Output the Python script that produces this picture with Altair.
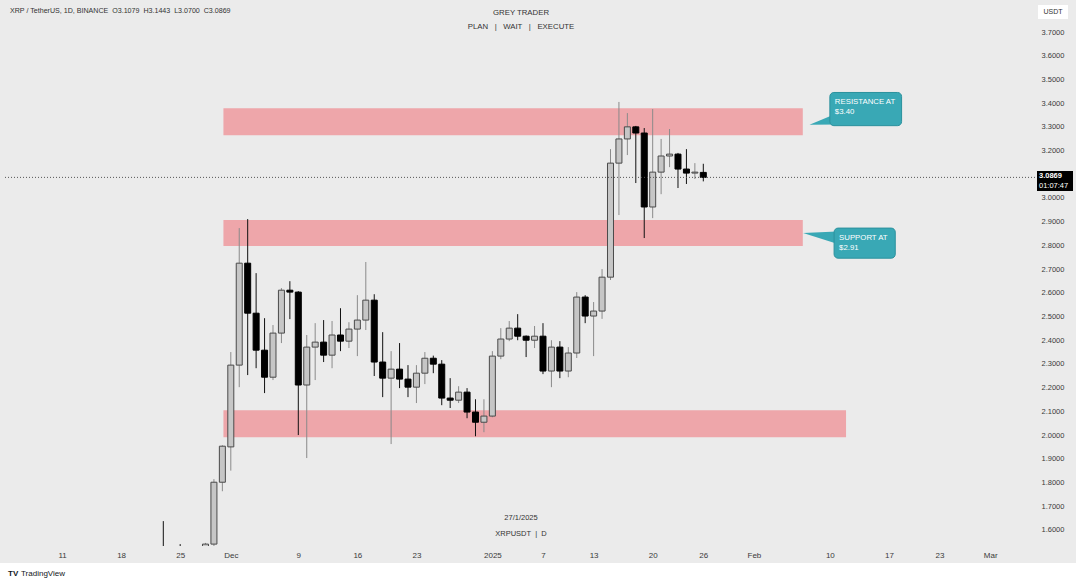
import altair as alt
import pandas as pd

# ---------------- data ----------------
dates = ["2024-11-21", "2024-11-22", "2024-11-23", "2024-11-24", "2024-11-25", "2024-11-26",
         "2024-11-27", "2024-11-28", "2024-11-29", "2024-11-30",
         "2024-12-01", "2024-12-02", "2024-12-03", "2024-12-04", "2024-12-05", "2024-12-06",
         "2024-12-07", "2024-12-08", "2024-12-09", "2024-12-10", "2024-12-11", "2024-12-12",
         "2024-12-13", "2024-12-14", "2024-12-15", "2024-12-16", "2024-12-17", "2024-12-18",
         "2024-12-19", "2024-12-20", "2024-12-21", "2024-12-22", "2024-12-23", "2024-12-24",
         "2024-12-25", "2024-12-26", "2024-12-27", "2024-12-28", "2024-12-29", "2024-12-30",
         "2024-12-31", "2025-01-01", "2025-01-02", "2025-01-03", "2025-01-04", "2025-01-05",
         "2025-01-06", "2025-01-07", "2025-01-08", "2025-01-09", "2025-01-10", "2025-01-11",
         "2025-01-12", "2025-01-13", "2025-01-14", "2025-01-15", "2025-01-16", "2025-01-17",
         "2025-01-18", "2025-01-19", "2025-01-20", "2025-01-21", "2025-01-22", "2025-01-23",
         "2025-01-24", "2025-01-25", "2025-01-26"]
opens = [1.10, 1.42, 1.49, 1.47, 1.46, 1.39, 1.41, 1.47, 1.54, 1.801,
         1.950, 2.295, 2.725, 2.514, 2.358, 2.244, 2.430, 2.611, 2.603, 2.211, 2.371, 2.392,
         2.337, 2.422, 2.396, 2.447, 2.485, 2.569, 2.308, 2.240, 2.278, 2.236, 2.202, 2.261,
         2.324, 2.299, 2.156, 2.147, 2.181, 2.097, 2.054, 2.080, 2.333, 2.405, 2.451, 2.417,
         2.400, 2.417, 2.270, 2.371, 2.270, 2.346, 2.582, 2.502, 2.523, 2.666, 3.147, 3.249,
         3.300, 3.274, 2.962, 3.109, 3.177, 3.185, 3.122, 3.105, 3.1079]
highs = [1.50, 1.52, 1.637, 1.52, 1.54, 1.48, 1.50, 1.545, 1.814, 1.957,
         2.350, 2.873, 2.911, 2.683, 2.493, 2.464, 2.620, 2.649, 2.607, 2.422, 2.472, 2.485,
         2.481, 2.535, 2.476, 2.590, 2.730, 2.594, 2.434, 2.354, 2.388, 2.295, 2.295, 2.350,
         2.335, 2.316, 2.240, 2.206, 2.198, 2.151, 2.151, 2.354, 2.451, 2.481, 2.510, 2.420,
         2.460, 2.472, 2.400, 2.396, 2.371, 2.603, 2.590, 2.561, 2.700, 3.206, 3.405, 3.358,
         3.304, 3.295, 3.375, 3.249, 3.291, 3.190, 3.206, 3.147, 3.1443]
lows = [1.09, 1.36, 1.44, 1.39, 1.38, 1.36, 1.39, 1.44, 1.52, 1.763,
        1.850, 2.202, 2.253, 2.282, 2.177, 2.232, 2.388, 2.489, 2.000, 1.903, 2.232, 2.308,
        2.282, 2.354, 2.367, 2.333, 2.443, 2.249, 2.160, 1.962, 2.198, 2.160, 2.135, 2.215,
        2.261, 2.126, 2.114, 2.135, 2.071, 1.995, 2.012, 2.075, 2.320, 2.396, 2.400, 2.329,
        2.367, 2.257, 2.202, 2.240, 2.244, 2.325, 2.472, 2.333, 2.490, 2.654, 2.928, 3.181,
        3.063, 2.831, 2.915, 3.016, 3.130, 3.042, 3.059, 3.080, 3.0700]
closes = [1.42, 1.49, 1.47, 1.46, 1.39, 1.41, 1.47, 1.54, 1.801, 1.953,
          2.295, 2.725, 2.514, 2.358, 2.244, 2.430, 2.611, 2.603, 2.211, 2.371, 2.392, 2.337,
          2.422, 2.396, 2.447, 2.485, 2.569, 2.308, 2.240, 2.278, 2.236, 2.202, 2.261, 2.324,
          2.299, 2.156, 2.147, 2.181, 2.097, 2.054, 2.080, 2.333, 2.405, 2.451, 2.417, 2.400,
          2.417, 2.270, 2.371, 2.270, 2.346, 2.582, 2.502, 2.523, 2.666, 3.147, 3.249, 3.300,
          3.274, 2.962, 3.109, 3.177, 3.185, 3.122, 3.105, 3.109, 3.0869]

tick_dates = ["2024-11-11", "2024-11-18", "2024-11-25", "2024-12-01", "2024-12-09", "2024-12-16",
              "2024-12-23", "2025-01-01", "2025-01-07", "2025-01-13", "2025-01-20", "2025-01-26",
              "2025-02-01", "2025-02-10", "2025-02-17", "2025-02-23", "2025-03-01"]
tick_labels = ["11", "18", "25", "Dec", "9", "16", "23", "2025", "7", "13", "20", "26",
               "Feb", "10", "17", "23", "Mar"]
price_ticks = [1.6, 1.7, 1.8, 1.9, 2.0, 2.1, 2.2, 2.3, 2.4, 2.5, 2.6, 2.7, 2.8, 2.9,
               3.0, 3.1, 3.2, 3.3, 3.4, 3.5, 3.6, 3.7]

zone_names = ["resistance", "support", "demand"]
zone_start = ["2024-11-30T03:00", "2024-11-30T03:00", "2024-11-30T03:00"]
zone_end = ["2025-02-06T19:00", "2025-02-06T19:00", "2025-02-11T22:00"]
zone_top = [3.379, 2.907, 2.105]
zone_bottom = [3.265, 2.797, 1.991]

callout_names = ["resistance", "support"]
callout_text = ["RESISTANCE AT\n$3.40", "SUPPORT AT\n$2.91"]
callout_x0 = ["2025-02-10T00:00", "2025-02-10T12:00"]
callout_x1 = ["2025-02-18T12:00", "2025-02-17T18:00"]
callout_top = [3.445, 2.873]
callout_bottom = [3.305, 2.746]
tail_tip_x = ["2025-02-07T14:00", "2025-02-06T20:00"]
tail_tip_y = [3.309, 2.852]
tail_base_x = ["2025-02-11T00:00", "2025-02-11T12:00"]
tail_base_top = [3.36, 2.86]
tail_base_bottom = [3.31, 2.80]

NB = "\u00a0"
header_text = ("XRP / TetherUS, 1D, BINANCE" + NB * 2 + "O3.1079" + NB * 2 + "H3.1443"
               + NB * 2 + "L3.0700" + NB * 2 + "C3.0869")
title_lines = ["GREY TRADER", "PLAN" + NB * 3 + "|" + NB * 3 + "WAIT" + NB * 3 + "|" + NB * 3 + "EXECUTE"]
footer_lines = ["27/1/2025", "XRPUSDT" + NB * 2 + "|" + NB * 2 + "D"]
last_price_text = "3.0869"
countdown_text = "01:07:47"
currency_text = "USDT"

# ---------------- helpers ----------------
BASE = pd.Timestamp("2024-12-01")


def dnum(s):
    return (pd.Timestamp(s) - BASE) / pd.Timedelta(days=1)


FONT = "Liberation Sans"

candles = pd.DataFrame({"date": dates, "open": opens, "high": highs, "low": lows, "close": closes})
candles["d"] = [dnum(s) for s in dates]

zones = pd.DataFrame({"name": zone_names, "x0": [dnum(s) for s in zone_start],
                      "x1": [dnum(s) for s in zone_end], "top": zone_top, "bottom": zone_bottom})

callouts = pd.DataFrame({"name": callout_names, "text": callout_text,
                         "x0": [dnum(s) for s in callout_x0], "x1": [dnum(s) for s in callout_x1],
                         "top": callout_top, "bottom": callout_bottom})

tail_rows = []
for i, n in enumerate(callout_names):
    tail_rows.append({"name": n, "x": dnum(tail_tip_x[i]), "y": tail_tip_y[i], "y2": tail_tip_y[i]})
    tail_rows.append({"name": n, "x": dnum(tail_base_x[i]), "y": tail_base_top[i], "y2": tail_base_bottom[i]})
tails = pd.DataFrame(tail_rows)

last = pd.DataFrame({"close": [closes[-1]]})

x_domain = [-26.17, 94.72]
y_domain = [1.532, 3.814]
XS = alt.Scale(domain=x_domain, nice=False, zero=False)
YS = alt.Scale(domain=y_domain, nice=False, zero=False)

lookup = "{" + ",".join("'%g':'%s'" % (dnum(d), l) for d, l in zip(tick_dates, tick_labels)) + "}"
x_axis = alt.Axis(values=[dnum(d) for d in tick_dates], labelExpr=lookup + "[datum.value]",
                  title=None, grid=False, domain=False, ticks=False, tickSize=0,
                  labelPadding=5, labelFontSize=8, labelColor="#3a3a3a", labelFont=FONT,
                  labelOverlap=False, labelFlush=False, labelBound=False)
y_axis = alt.Axis(orient="right", values=price_ticks, format=".4f", title=None, grid=False,
                  domain=False, ticks=False, tickSize=0, labelPadding=6, labelAlign="left",
                  labelFontSize=7.5, labelColor="#3a3a3a", labelFont=FONT,
                  labelOverlap=False, labelFlush=False, labelBound=False)


def X(field):
    return alt.X(field, type="quantitative", scale=XS, axis=x_axis)


def Y(field):
    return alt.Y(field, type="quantitative", scale=YS, axis=y_axis)


up = "datum.close >= datum.open"
ONE = pd.DataFrame({"k": [0]})


def pixel_rect(x0, x1, y0, y1, color):
    return alt.Chart(ONE).mark_rect(color=color).encode(
        x=alt.value(x0), x2=alt.value(x1), y=alt.value(y0), y2=alt.value(y1))


def pixel_text(t, x, y, align="center", size=7.5, color="#333333", weight="normal"):
    return alt.Chart(ONE).mark_text(align=align, baseline="middle", font=FONT, fontSize=size,
                                    color=color, fontWeight=weight, text=t).encode(
        x=alt.value(x), y=alt.value(y))


# ---------------- layers ----------------
bottom_strip = pixel_rect(-5, 1075, 558, 580, "white")
right_strip = pixel_rect(1071, 1076, -5, 580, "white")

zone_layer = alt.Chart(zones).mark_rect(color="#eea6aa", opacity=1).encode(
    x=X("x0"), x2="x1", y=Y("top"), y2="bottom")

wicks = alt.Chart(candles).mark_rule(strokeWidth=1, clip=True).encode(
    x=X("d"), y=Y("low"), y2="high",
    color=alt.condition(up, alt.value("#8a8a8a"), alt.value("#111111")))

bodies = alt.Chart(candles).mark_bar(size=6, strokeWidth=1, clip=True).encode(
    x=X("d"), y=Y("open"), y2="close",
    fill=alt.condition(up, alt.value("#c6c6c6"), alt.value("#000000")),
    stroke=alt.condition(up, alt.value("#4a4a4a"), alt.value("#000000")))

last_line = alt.Chart(last).mark_rule(strokeDash=[1, 2], color="#555555", strokeWidth=1).encode(
    y=Y("close"))

tail_layer = alt.Chart(tails).mark_area(color="#39a8b5", opacity=1).encode(
    x=X("x"), y=Y("y"), y2="y2", detail="name")

box_layer = alt.Chart(callouts).mark_rect(fill="#39a8b5", stroke="#2b919d", strokeWidth=1,
                                          cornerRadius=4).encode(
    x=X("x0"), x2="x1", y=Y("top"), y2="bottom")

box_text = alt.Chart(callouts).mark_text(align="left", baseline="top", dx=5, dy=6, color="white",
                                         font=FONT, fontSize=7.8, lineBreak="\n",
                                         lineHeight=10).encode(
    x=X("x0"), y=Y("top"), text="text")

header = pixel_text(header_text, 5, 6, align="left", size=7.1)
title1 = pixel_text(title_lines[0], 516, 8, size=7.8)
title2 = pixel_text(title_lines[1], 516, 22, size=7.8)
foot1 = pixel_text(footer_lines[0], 516, 513)
foot2 = pixel_text(footer_lines[1], 516, 529)
tv_logo = pixel_text("TV", 3, 569, align="left", size=8, color="#131722", weight="bold")
tv_text = pixel_text("TradingView", 16, 569, align="left", size=8, color="#131722")

usdt_box = pixel_rect(1033, 1063, 0, 14, "white")
usdt_text = pixel_text(currency_text, 1048, 7, size=7)

tag_box = pixel_rect(1032, 1068, 166, 186, "#000000")
tag_price = pixel_text(last_price_text, 1034, 171, align="left", color="white", weight="bold")
tag_time = pixel_text(countdown_text, 1034, 181, align="left", color="white")

chart = alt.layer(
    bottom_strip, right_strip, zone_layer, wicks, bodies, last_line,
    tail_layer, box_layer, box_text, header, title1, title2, foot1, foot2, tv_logo, tv_text,
    usdt_box, usdt_text, tag_box, tag_price, tag_time
).properties(
    width=1030, height=541,
    background="#ebebeb",
    padding={"left": 5, "top": 5, "right": 45, "bottom": 38},
    autosize=alt.AutoSizeParams(type="none"),
).configure_view(strokeWidth=0)

chart.save("out.html", embed_options={"renderer": "svg", "actions": False})
